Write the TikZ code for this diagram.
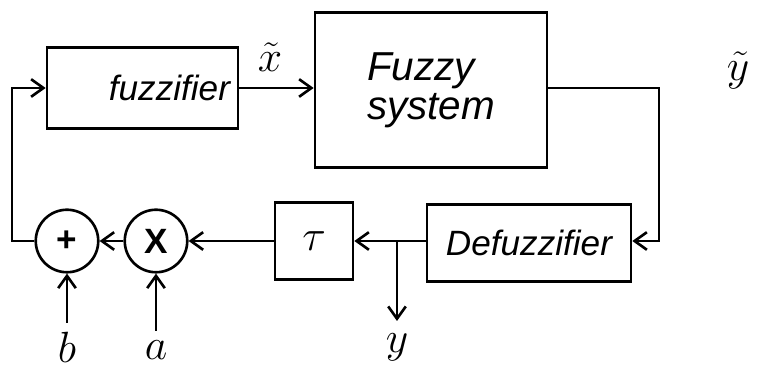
\documentclass[tikz,border=0pt]{standalone}
\usepackage{fontspec}
\newfontfamily\handfont{Liberation Sans}
\usetikzlibrary{arrows.meta, positioning, calc}

\begin{document}
\begin{tikzpicture}[
  line width=1.5pt,
  >={Straight Barb[length=7pt, width=10pt, line width=1.5pt]},
  blk/.style={draw, minimum width=#1, inner sep=0pt,
              font=\handfont\itshape\fontsize{20}{22}\selectfont},
  opc/.style={circle, draw, minimum size=1.25cm, inner sep=0pt,
              font=\handfont\fontsize{20}{22}\selectfont\bfseries},
  sig/.style={font=\fontsize{26}{28}\selectfont}
]
  \useasboundingbox (0,0) rectangle (15.26,-7.46);

  % upper row
  \node[blk=3.82cm, minimum height=1.62cm, text width=3.5cm, align=right]
    (fuzz) at (2.85, -1.76) {fuzzifier};
  \node[blk=4.64cm, minimum height=3.1cm, align=left] (fsys) at (8.62, -1.8)
    {\fontsize{23}{24}\selectfont Fuzzy\\
     \fontsize{23}{24}\selectfont system};

  % lower row
  \node[blk=4.08cm, minimum height=1.54cm] (defz) at (10.58, -4.86) {Defuzzifier};
  \node[blk=1.56cm, minimum height=1.54cm] (dly) at (6.28, -4.82)
    {\normalfont\fontsize{30}{30}\selectfont$\tau$};
  \node[opc] (mul) at (3.12, -4.82) {X};
  \node[opc] (sum) at (1.34, -4.82) {+};

  \coordinate (rc) at (13.18, -1.76);
  \coordinate (lc) at (0.24, -1.76);
  \coordinate (br) at (7.94, -4.82);

  % signal labels
  \node[sig] (xt) at (5.4, -1.15) {$\tilde{x}$};
  \node[sig] (yt) at (14.76, -1.4) {$\tilde{y}$};
  \node[sig] (yout) at (7.94, -6.95) {$y$};
  \node[sig] (ain) at (3.12, -7.0) {$a$};
  \node[sig] (bin) at (1.34, -6.95) {$b$};

  % connections
  \draw[->] (fuzz.east) -- (fsys.west |- fuzz.east);
  \draw[->] (fsys.east |- rc) -- (rc) |- (defz.east |- br);
  \draw[->] (defz.west |- br) -- (dly.east);
  \draw[->] (br) -- ($(br)+(0,-1.6)$);
  \draw[->] (dly.west) -- (mul.east);
  \draw[->] (mul.west) -- (sum.east);
  \draw[->] (sum.west) -| (lc) -- (fuzz.west);
  \draw[->] (ain.north) ++(0,0.05) -- (mul.south);
  \draw[->] (bin.north) ++(0,0.05) -- (sum.south);
\end{tikzpicture}
\end{document}
